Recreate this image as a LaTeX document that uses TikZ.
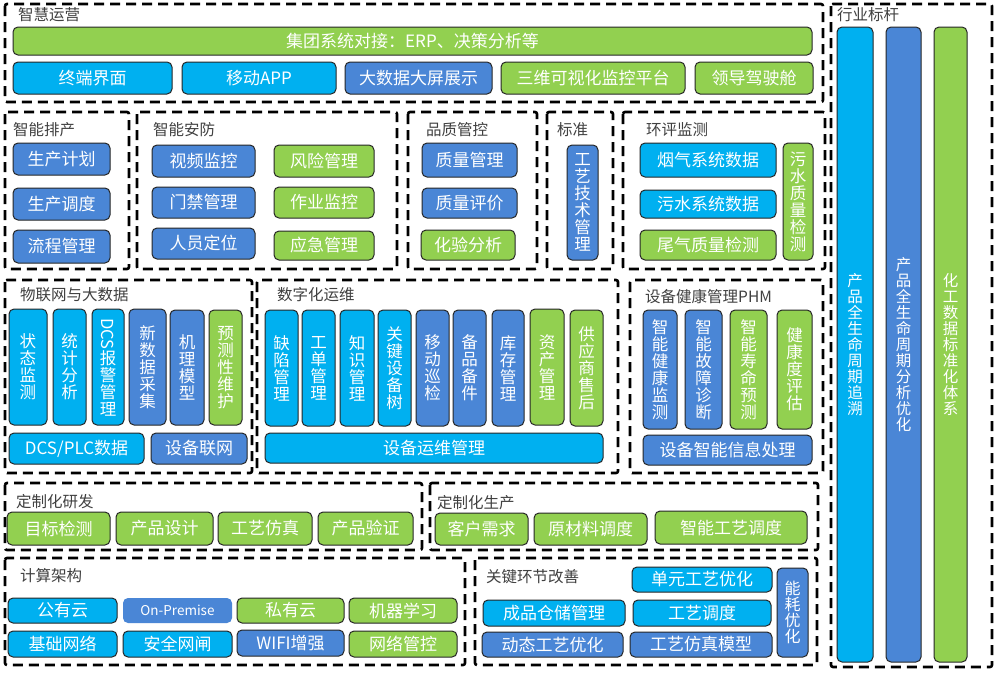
\documentclass[tikz,border=0pt]{standalone}
\usepackage{fontspec}
\usepackage{graphicx}
\setmainfont{Noto Sans CJK SC}
\definecolor{cblue}{HTML}{00B0F0}
\definecolor{dblue}{HTML}{4A86D6}
\definecolor{cgreen}{HTML}{92D050}
\definecolor{ttlgray}{HTML}{404040}
\newcommand\bt[7]{\node[btn,fill=#6,minimum width={(#4)-(#2)},minimum height={(#5)-(#3)}] (#1) at ({((#2)+(#4))/2},{((#3)+(#5))/2}) {#7};}
\newcommand\vb[7]{\node[btn,vtxt,fill=#6,minimum width={(#4)-(#2)},minimum height={(#5)-(#3)}] (#1) at ({((#2)+(#4))/2},{((#3)+(#5))/2}) {#7};}
\tikzset{
  btn/.style={rounded corners=5pt, draw=black!85, line width=1pt, text=white, inner sep=0pt, outer sep=0pt, font=\fontsize{17}{18}\selectfont, align=center},
  vtxt/.style={font=\fontsize{16.5}{17}\selectfont},
  dbox/.style={draw=black, line width=2.6pt, dash pattern=on 10pt off 6pt, rounded corners=2pt},
  ttl/.style={anchor=west, inner sep=0pt, text=ttlgray, font=\fontsize{15.5}{16}\selectfont}
}
\begin{document}
\begin{tikzpicture}[x=1pt,y=-1pt]
\useasboundingbox[fill=white] (0,0) rectangle (1000,672);
% ---------- 智慧运营
\draw[dbox] (5,4) rectangle (823,102);
\node[ttl] (t0) at (18,15) {智慧运营};
\bt{a0}{13}{27}{812}{55}{cgreen}{集团系统对接：ERP、决策分析等}
\bt{a1}{13}{62}{172}{94}{cblue}{终端界面}
\bt{a2}{182}{62}{336}{94}{cblue}{移动APP}
\bt{a3}{345}{62}{492}{94}{dblue}{大数据大屏展示}
\bt{a4}{501}{62}{685}{94}{cgreen}{三维可视化监控平台}
\bt{a5}{695}{62}{813}{94}{cgreen}{领导驾驶舱}
% ---------- 行业标杆
\draw[dbox] (831,4) rectangle (992,667);
\node[ttl] (t1) at (837,15) {行业标杆};
\node[btn,fill=cblue,minimum width=36,minimum height=635,font=\fontsize{15.5}{16}\selectfont] (h1) at (855,344.5) {产\\品\\全\\生\\命\\周\\期\\追\\溯};
\node[btn,fill=dblue,minimum width=35,minimum height=635,font=\fontsize{15.5}{16}\selectfont] (h2) at (903.5,344.5) {产\\品\\全\\生\\命\\周\\期\\分\\析\\优\\化};
\node[btn,fill=cgreen,minimum width=33,minimum height=635,font=\fontsize{15.5}{16}\selectfont] (h3) at (950.5,344.5) {化\\工\\数\\据\\标\\准\\化\\体\\系};
% ---------- 智能排产
\draw[dbox] (5,112) rectangle (129,269);
\node[ttl] (t2) at (13,130) {智能排产};
\bt{b1}{13}{143}{110}{175}{dblue}{生产计划}
\bt{b2}{13}{188}{110}{220}{dblue}{生产调度}
\bt{b3}{13}{230}{110}{263}{dblue}{流程管理}
% ---------- 智能安防
\draw[dbox] (137,112) rectangle (397,269);
\node[ttl] (t3) at (153,130) {智能安防};
\bt{c1}{152}{145}{255}{177}{dblue}{视频监控}
\bt{c2}{152}{187}{255}{218}{dblue}{门禁管理}
\bt{c3}{152}{228}{255}{259}{dblue}{人员定位}
\bt{c4}{274}{145}{374}{177}{cgreen}{风险管理}
\bt{c5}{274}{187}{374}{218}{cgreen}{作业监控}
\bt{c6}{274}{231}{374}{260}{cgreen}{应急管理}
% ---------- 品质管控
\draw[dbox] (408,112) rectangle (537,269);
\node[ttl] (t4) at (426,130) {品质管控};
\bt{d1}{422}{143}{517}{177}{dblue}{质量管理}
\bt{d2}{422}{188}{517}{218}{dblue}{质量评价}
\bt{d3}{421}{230}{515}{260}{cgreen}{化验分析}
% ---------- 标准
\draw[dbox] (547,112) rectangle (613,269);
\node[ttl] (t5) at (557,130) {标准};
\vb{e1}{567}{145}{598}{260}{dblue}{工\\艺\\技\\术\\管\\理}
% ---------- 环评监测
\draw[dbox] (623,112) rectangle (825,269);
\node[ttl] (t6) at (646,130) {环评监测};
\bt{f1}{640}{143}{776}{177}{cblue}{烟气系统数据}
\bt{f2}{640}{190}{776}{218}{cblue}{污水系统数据}
\bt{f3}{640}{230}{776}{260}{cgreen}{尾气质量检测}
\vb{f4}{783}{143}{813}{260}{cgreen}{污\\水\\质\\量\\检\\测}
% ---------- 物联网与大数据
\draw[dbox] (5,280) rectangle (252,473);
\node[ttl] (t7) at (20,295) {物联网与大数据};
\vb{g1}{9}{309}{47}{425}{cblue}{状\\态\\监\\测}
\vb{g2}{53}{309}{86}{425}{cblue}{统\\计\\分\\析}
\vb{g3}{92}{309}{124}{425}{cblue}{\rotatebox[origin=c]{-90}{DCS}\\报\\警\\管\\理}
\vb{g4}{129}{309}{166}{425}{dblue}{新\\数\\据\\采\\集}
\vb{g5}{170}{310}{204}{425}{dblue}{机\\理\\模\\型}
\vb{g6}{209}{310}{242}{425}{cgreen}{预\\测\\性\\维\\护}
\bt{g7}{9}{433}{144}{464}{cblue}{DCS/PLC数据}
\bt{g8}{151}{433}{247}{464}{dblue}{设备联网}
% ---------- 数字化运维
\draw[dbox] (257,280) rectangle (618,473);
\node[ttl] (t8) at (277,295) {数字化运维};
\vb{k1}{265}{310}{298}{426}{cblue}{缺\\陷\\管\\理}
\vb{k2}{302}{310}{335}{426}{cblue}{工\\单\\管\\理}
\vb{k3}{340}{310}{374}{426}{cblue}{知\\识\\管\\理}
\vb{k4}{378}{310}{411}{426}{cblue}{关\\键\\设\\备\\树}
\vb{k5}{416}{310}{449}{426}{dblue}{移\\动\\巡\\检}
\vb{k6}{453}{310}{486}{426}{dblue}{备\\品\\备\\件}
\vb{k7}{492}{310}{524}{426}{dblue}{库\\存\\管\\理}
\vb{k8}{530}{309}{564}{425}{cgreen}{资\\产\\管\\理}
\vb{k9}{570}{310}{603}{426}{cgreen}{供\\应\\商\\售\\后}
\bt{k10}{265}{433}{603}{463}{cblue}{设备运维管理}
% ---------- 设备健康管理PHM
\draw[dbox] (630,280) rectangle (823,473);
\node[ttl] (t9) at (645,297) {设备健康管理PHM};
\vb{m1}{643}{310}{677}{429}{dblue}{智\\能\\健\\康\\监\\测}
\vb{m2}{685}{310}{722}{429}{dblue}{智\\能\\故\\障\\诊\\断}
\vb{m3}{730}{310}{767}{429}{cgreen}{智\\能\\寿\\命\\预\\测}
\vb{m4}{777}{310}{812}{429}{cgreen}{健\\康\\度\\评\\估}
\bt{m5}{643}{435}{812}{465}{dblue}{设备智能信息处理}
% ---------- 定制化研发
\draw[dbox] (5,483) rectangle (422,550);
\node[ttl] (t10) at (16,502) {定制化研发};
\bt{n1}{7}{512}{110}{545}{cgreen}{目标检测}
\bt{n2}{116}{512}{213}{545}{cgreen}{产品设计}
\bt{n3}{218}{512}{312}{545}{cgreen}{工艺仿真}
\bt{n4}{318}{512}{413}{545}{cgreen}{产品验证}
% ---------- 定制化生产
\draw[dbox] (430,483) rectangle (818,550);
\node[ttl] (t11) at (437,503) {定制化生产};
\bt{p1}{435}{513}{528}{545}{cgreen}{客户需求}
\bt{p2}{534}{513}{647}{545}{cgreen}{原材料调度}
\bt{p3}{655}{511}{807}{544}{cgreen}{智能工艺调度}
% ---------- 计算架构
\draw[dbox] (5,558) rectangle (465,665);
\node[ttl] (t12) at (20,576) {计算架构};
\bt{q1}{8}{598}{117}{623}{cblue}{公有云}
\node[btn,draw=none,fill=dblue,minimum width=109,minimum height=25,font=\fontsize{13.5}{14}\selectfont] (q2) at (177.5,610.5) {On-Premise};
\bt{q3}{237}{598}{344}{623}{cgreen}{私有云}
\bt{q4}{349}{598}{457}{623}{cgreen}{机器学习}
\bt{q5}{8}{631}{117}{657}{cblue}{基础网络}
\bt{q6}{123}{631}{232}{657}{cblue}{安全网闸}
\bt{q7}{237}{630}{344}{656}{dblue}{WIFI增强}
\bt{q8}{349}{631}{457}{657}{cgreen}{网络管控}
% ---------- 关键环节改善
\draw[dbox] (475,558) rectangle (817,665);
\node[ttl] (t13) at (486,577) {关键环节改善};
\bt{r1}{632}{567}{772}{592}{cblue}{单元工艺优化}
\bt{r2}{483}{600}{625}{626}{cblue}{成品仓储管理}
\bt{r3}{633}{600}{771}{626}{cblue}{工艺调度}
\bt{r4}{482}{632}{623}{657}{dblue}{动态工艺优化}
\bt{r5}{630}{632}{772}{657}{dblue}{工艺仿真模型}
\node[btn,fill=dblue,minimum width=31,minimum height=89,font=\fontsize{16}{16}\selectfont] (r6) at (792.5,612.5) {能\\耗\\优\\化};
\end{tikzpicture}
\end{document}
